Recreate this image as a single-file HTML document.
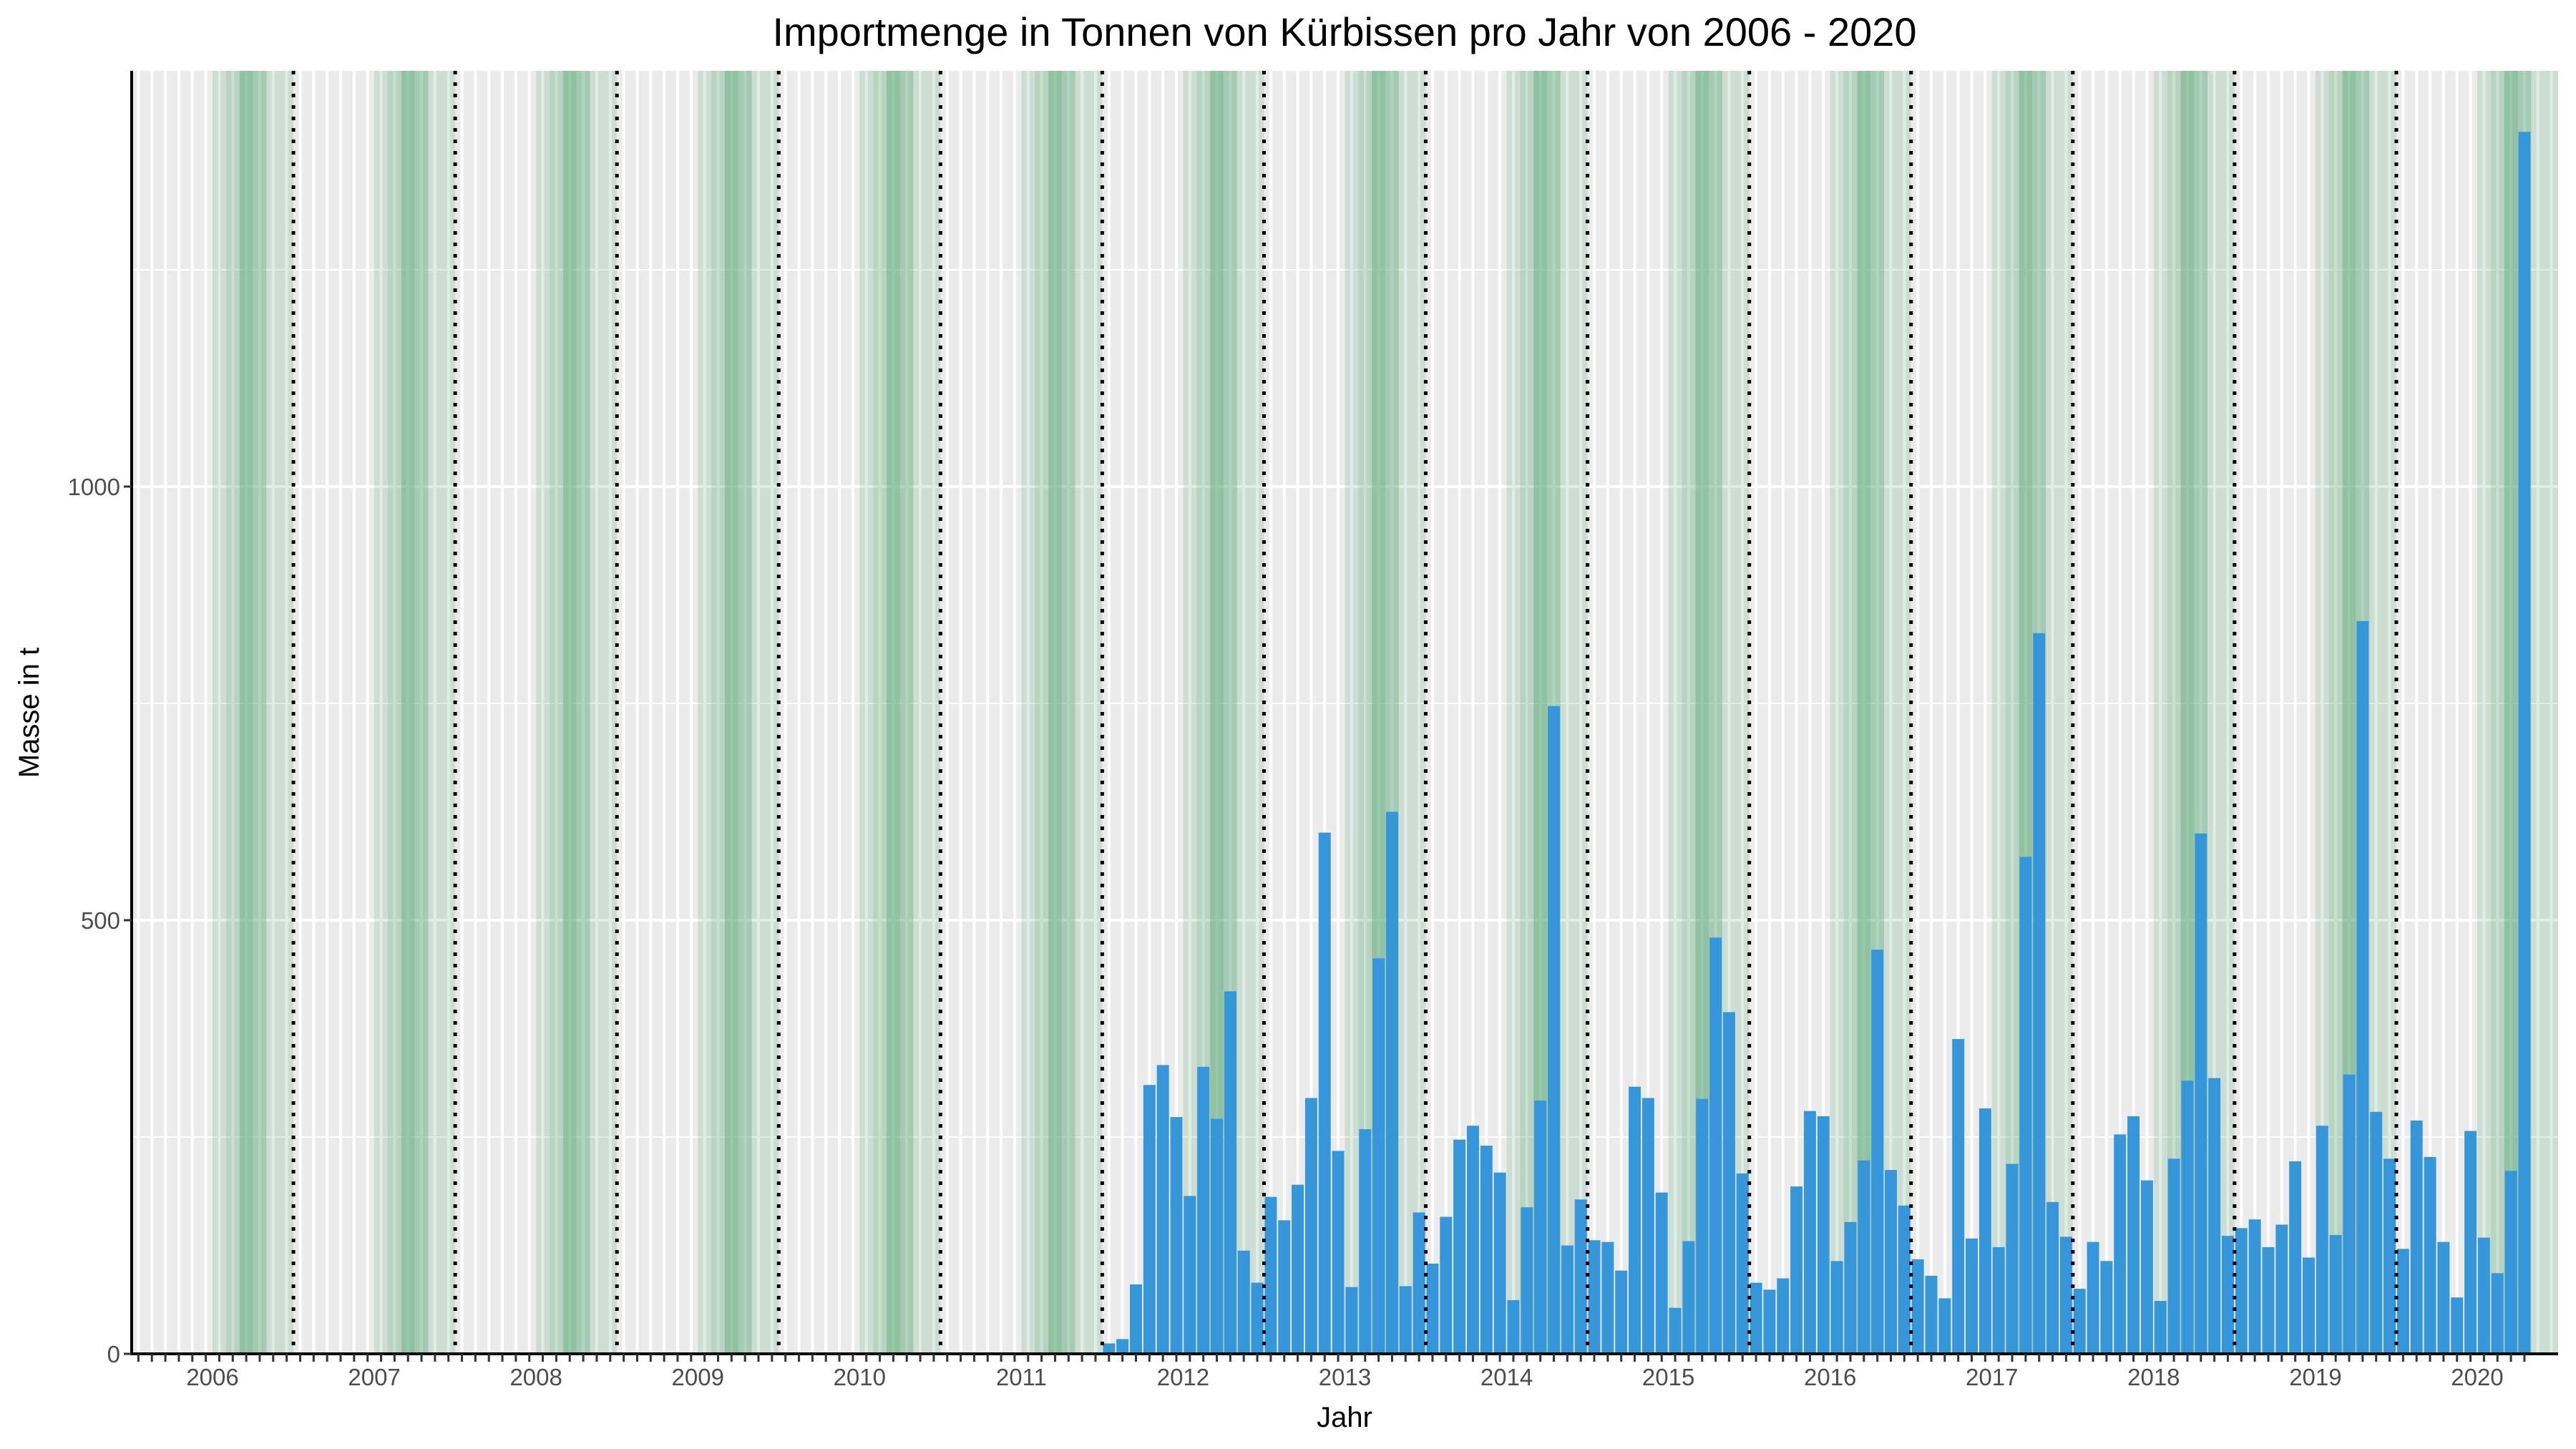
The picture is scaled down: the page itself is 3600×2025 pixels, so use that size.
<!DOCTYPE html>
<html><head><meta charset="utf-8"><style>
html,body{margin:0;padding:0;background:#fff}
svg{display:block;font-family:"Liberation Sans",sans-serif}
</style></head><body>
<svg id="chart" width="3600" height="2025" viewBox="0 0 3600 2025" xmlns="http://www.w3.org/2000/svg">
<rect x="0" y="0" width="3600" height="2025" fill="#ffffff"/>
<text x="1879" y="64" font-size="56" text-anchor="middle" fill="#000">Importmenge in Tonnen von Kürbissen pro Jahr von 2006 - 2020</text>
<g id="plot"></g>
<text x="1879" y="1994" font-size="40" text-anchor="middle" fill="#000">Jahr</text>
<text x="0" y="0" font-size="40" text-anchor="middle" fill="#000" transform="translate(54,996) rotate(-90)">Masse in t</text>
</svg>
<script>
const years = [2006,2007,2008,2009,2010,2011,2012,2013,2014,2015,2016,2017,2018,2019,2020];
const yTicks = [0,500,1000];
const yMinor = [250,750,1250];
const seasonAlpha = [0.18,0.32,0.59,0.46,0.19,0.19]; // Jul..Dec shading strength
const firstDataYear = 2012;
const imports = [
 12,17,80,310,333,273,182,331,271,418,119,82,
 181,154,195,295,601,234,77,259,456,625,78,163,
 104,158,247,263,240,209,62,169,292,747,125,178,
 131,129,96,308,295,186,53,130,294,480,394,208,
 82,74,87,193,280,274,107,152,223,466,212,171,
 109,90,64,363,133,283,123,219,573,831,175,135,
 75,129,107,253,274,200,61,225,315,600,318,136,
 145,155,123,149,222,111,263,137,322,845,279,225,
 121,269,227,129,65,257,134,93,211,1409
];
const NS="http://www.w3.org/2000/svg";
const L=184,R=3575,T=99,B=1892;
const nMonths=years.length*12;
const mw=(R-L)/nMonths;
const yMax=1000/(B-680);
function xPos(i){return L+(i+0.5)*mw;}
function yPos(v){return B-v/yMax;}
const g=document.getElementById('plot');
function mk(tag,attrs,parent){const e=document.createElementNS(NS,tag);for(const k in attrs)e.setAttribute(k,attrs[k]);(parent||g).appendChild(e);return e;}
let e=mk('rect',{x:L,y:T,width:R-L,height:B-T,fill:'#ebebeb'});


yMinor.forEach(v=>{const l=mk('line',{x1:L,x2:R,y1:yPos(v),y2:yPos(v),stroke:'#fff','stroke-width':2});

});
yTicks.forEach(v=>{const l=mk('line',{x1:L,x2:R,y1:yPos(v),y2:yPos(v),stroke:'#fff','stroke-width':4});

});
for(let i=0;i<nMonths;i++){const l=mk('line',{x1:xPos(i),x2:xPos(i),y1:T,y2:B,stroke:'#fff','stroke-width':4});

}
years.forEach((yr,yi)=>{seasonAlpha.forEach((a,k)=>{const i=yi*12+6+k;
 let w=mw; if(i===nMonths-1) w=R-(L+i*mw);
 const r=mk('rect',{x:L+i*mw,y:T,width:w,height:B-T,fill:'rgb(80,163,113)','fill-opacity':a});
 
 });});
const off=(firstDataYear-years[0])*12;
imports.forEach((v,j)=>{const i=off+j;const bw=mw*0.9;
 const r=mk('rect',{x:xPos(i)-bw/2,y:yPos(v),width:bw,height:B-yPos(v),fill:'#3597da'});
 
 });
for(let yi=1;yi<years.length;yi++){const x=L+yi*12*mw;
 const l=mk('line',{x1:x,x2:x,y1:T,y2:B,stroke:'#000','stroke-width':5,'stroke-dasharray':'5 11'});
 
 }
e=mk('line',{x1:L,x2:L,y1:T,y2:B+2,stroke:'#000','stroke-width':4});


e=mk('line',{x1:L-2,x2:R,y1:B,y2:B,stroke:'#000','stroke-width':4});


yTicks.forEach(v=>{const t=mk('line',{x1:L-11,x2:L,y1:yPos(v),y2:yPos(v),stroke:'#333','stroke-width':3});


const tx=mk('text',{x:L-16,y:yPos(v)+12,'font-size':33,'text-anchor':'end',fill:'#4d4d4d'});tx.textContent=v;

});
const lastMonth=off+imports.length;
for(let i=0;i<lastMonth;i++){const t=mk('line',{x1:xPos(i),x2:xPos(i),y1:B,y2:B+11,stroke:'#333','stroke-width':3});

}
years.forEach((yr,yi)=>{const tx=mk('text',{x:L+(yi*12+6)*mw,y:1936,'font-size':33,'text-anchor':'middle',fill:'#4d4d4d'});tx.textContent=yr;

});
</script>
</body></html>
